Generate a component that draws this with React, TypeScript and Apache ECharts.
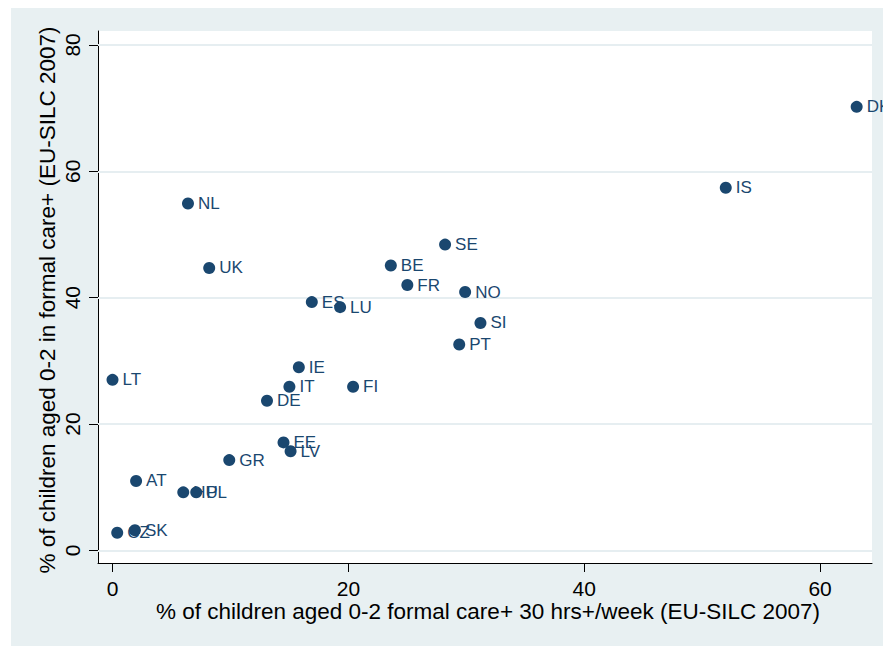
import React, { useEffect, useRef } from "react";
import * as echarts from "echarts";

// Country codes with formal childcare shares for children aged 0-2
const countries = ["DK", "IS", "NL", "UK", "SE", "BE", "FR", "NO", "ES", "LU", "SI", "PT", "IE", "LT", "IT", "FI", "DE", "EE", "LV", "GR", "AT", "HU", "PL", "SK", "CZ"];
// % in formal care+ 30 hrs+/week
const fullTimeShare = [63.1, 52.0, 6.4, 8.2, 28.2, 23.6, 25.0, 29.9, 16.9, 19.3, 31.2, 29.4, 15.8, 0.0, 15.0, 20.4, 13.1, 14.5, 15.1, 9.9, 2.0, 6.0, 7.1, 1.9, 0.4];
// % in formal care+ (any hours)
const anyCareShare = [70.2, 57.4, 54.9, 44.7, 48.4, 45.1, 42.0, 40.9, 39.3, 38.5, 36.0, 32.6, 29.0, 27.0, 25.9, 25.9, 23.7, 17.1, 15.7, 14.3, 11.0, 9.2, 9.2, 3.2, 2.8];

const xTicks = [0, 20, 40, 60];
const yTicks = [0, 20, 40, 60, 80];

const xTitle = "% of children aged 0-2 formal care+ 30 hrs+/week (EU-SILC 2007)";
const yTitle = "% of children aged 0-2 in formal care+ (EU-SILC 2007)";

const NAVY = "#1a476f";
const PANEL = "#e8f0f2";
const GRID = "#e6eef1";
const FONT = "Liberation Sans, Arial, sans-serif";

export default function App() {
  const ref = useRef<HTMLDivElement>(null);

  useEffect(() => {
    if (!ref.current) return;
    const chart = echarts.init(ref.current, undefined, { renderer: "svg" });

    const points = countries.map((c, i) => ({ name: c, value: [fullTimeShare[i], anyCareShare[i]] }));

    chart.setOption({
      animation: false,
      backgroundColor: "#ffffff",
      textStyle: { fontFamily: FONT },
      graphic: [
        {
          type: "rect",
          z: -10,
          silent: true,
          shape: { x: 11, y: 8, width: 883, height: 650 },
          style: { fill: PANEL },
        },
        {
          type: "text",
          x: 488,
          y: 611,
          style: {
            text: xTitle,
            fontSize: 22.5,
            fontFamily: FONT,
            fill: "#000000",
            align: "center",
            verticalAlign: "middle",
          },
        },
        {
          type: "text",
          x: 47,
          y: 300,
          rotation: Math.PI / 2,
          style: {
            text: yTitle,
            fontSize: 22.5,
            fontFamily: FONT,
            fill: "#000000",
            align: "center",
            verticalAlign: "middle",
          },
        },
      ],
      grid: {
        left: 98,
        top: 31,
        right: 11,
        bottom: 83,
        show: true,
        backgroundColor: "#ffffff",
        borderWidth: 0,
      },
      xAxis: {
        type: "value",
        min: -1.23,
        max: 64.4,
        axisLine: { show: true, onZero: false, lineStyle: { color: "#000000", width: 1 } },
        axisTick: { show: true, length: 9, customValues: xTicks, lineStyle: { color: "#000000" } },
        axisLabel: { customValues: xTicks, fontSize: 21, color: "#000000", margin: 15, fontFamily: FONT },
        splitLine: { show: false },
      },
      yAxis: {
        type: "value",
        min: -1.98,
        max: 82.2,
        axisLine: { show: true, onZero: false, lineStyle: { color: "#000000", width: 1 } },
        axisTick: { show: true, length: 9, customValues: yTicks, lineStyle: { color: "#000000" } },
        axisLabel: { customValues: yTicks, fontSize: 21, color: "#000000", margin: 15, rotate: 90, fontFamily: FONT },
        splitLine: { show: false },
      },
      series: [
        {
          type: "scatter",
          data: points,
          symbol: "circle",
          symbolSize: 12,
          itemStyle: { color: NAVY, opacity: 1 },
          label: {
            show: true,
            position: "right",
            distance: 4,
            formatter: "{b}",
            color: NAVY,
            opacity: 1,
            fontSize: 17,
            fontFamily: FONT,
          },
          labelLayout: { hideOverlap: false },
          markLine: {
            silent: true,
            symbol: ["none", "none"],
            label: { show: false },
            lineStyle: { color: GRID, type: "solid", width: 2, opacity: 1 },
            z: 1,
            data: yTicks.map((v) => ({ yAxis: v })),
          },
          z: 3,
        },
      ],
    });

    return () => chart.dispose();
  }, []);

  return (
    <div
      ref={ref}
      style={{ position: "fixed", left: 0, top: 0, width: 883, height: 646 }}
    />
  );
}
